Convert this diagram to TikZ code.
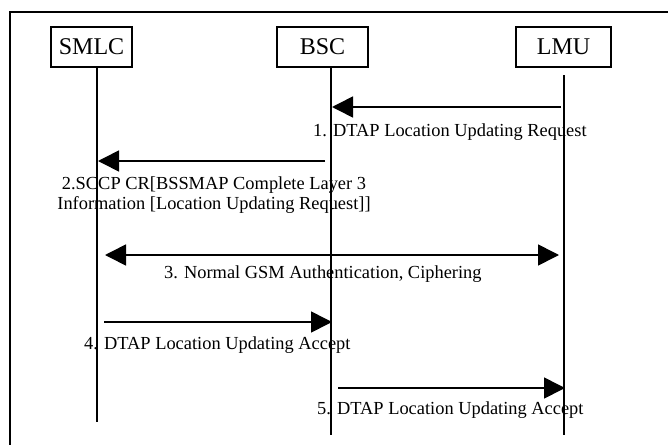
\documentclass[tikz,border=0pt]{standalone}
\usepackage{fontspec}
\setmainfont{Liberation Serif}
\usetikzlibrary{arrows.meta}
\tikzset{
  entity/.style={draw, line width=1.4pt, inner sep=0pt, font=\fontsize{24}{28}\selectfont},
  life/.style={line width=1.4pt},
  msg/.style={line width=1.6pt, -{Triangle[length=21pt,width=21pt]}},
  bimsg/.style={line width=1.6pt, {Triangle[length=21pt,width=21pt]}-{Triangle[length=21pt,width=21pt]}},
  lbl/.style={inner sep=0pt, font=\fontsize{18.4}{20}\selectfont},
  frame/.style={line width=2.2pt}
}
\begin{document}
\begin{tikzpicture}[x=1pt,y=-1pt]
\useasboundingbox (0,0) rectangle (668,444);
\fill[white] (0,0) rectangle (668,444);
% partial frame
\draw[frame] (10,446) -- (10,12) -- (670,12);
% entities
\node[entity, minimum width=81pt, minimum height=40pt] (smlc) at (91.5,47) {SMLC};
\node[entity, minimum width=91pt, minimum height=40pt] (bsc) at (322.5,47) {BSC};
\node[entity, minimum width=95pt, minimum height=40pt] (lmu) at (563.5,47) {LMU};
% lifelines
\coordinate (smlcTop) at (97,67);
\coordinate (smlcBot) at (97,422);
\coordinate (bscTop) at (331,67);
\coordinate (bscBot) at (331,435);
\coordinate (lmuTop) at (564,75);
\coordinate (lmuBot) at (564,435);
\draw[life] (smlcTop) -- (smlcBot);
\draw[life] (bscTop) -- (bscBot);
\draw[life] (lmuTop) -- (lmuBot);
% message 1
\coordinate (m1s) at (561,107);
\coordinate (m1e) at (332,107);
\draw[msg] (m1s) -- (m1e);
\node[lbl, anchor=base west] (l1) at (313,136) {1. DTAP Location Updating Request};
% message 2
\coordinate (m2s) at (325,161);
\coordinate (m2e) at (98,161);
\draw[msg] (m2s) -- (m2e);
\node[lbl, align=center] (l2) at (214,195) {2.SCCP CR[BSSMAP Complete Layer 3\\Information [Location Updating Request]]};
% message 3
\coordinate (m3s) at (105,255);
\coordinate (m3e) at (559,255);
\draw[bimsg] (m3s) -- (m3e);
\node[lbl, anchor=base west] (l3) at (164,278) {3. Normal GSM Authentication, Ciphering};
% message 4
\coordinate (m4s) at (104,322);
\coordinate (m4e) at (332,322);
\draw[msg] (m4s) -- (m4e);
\node[lbl, anchor=base west] (l4) at (84,349) {4. DTAP Location Updating Accept};
% message 5
\coordinate (m5s) at (338,388);
\coordinate (m5e) at (565,388);
\draw[msg] (m5s) -- (m5e);
\node[lbl, anchor=base west] (l5) at (317,414) {5. DTAP Location Updating Accept};
\end{tikzpicture}
\end{document}
